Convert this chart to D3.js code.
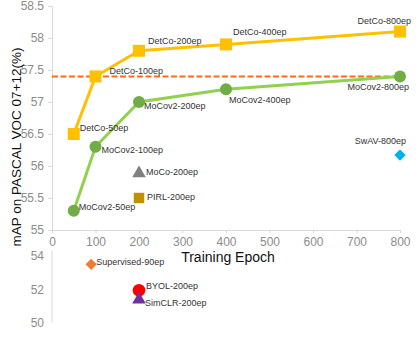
<!DOCTYPE html>
<html><head><meta charset="utf-8">
<script src="https://cdn.jsdelivr.net/npm/d3@7"></script>
<style>body{margin:0;background:#fff}svg{display:block}text{font-family:"Liberation Sans",Arial,sans-serif}</style>
</head><body><svg id="c" width="419" height="340"></svg>
<script>
const epochs = [50, 100, 200, 400, 800];
const detco = [56.5, 57.4, 57.8, 57.9, 58.1];
const mocov2 = [55.3, 56.3, 57.0, 57.2, 57.4];
const baselineLine = 57.4;
const xTicks = [0, 100, 200, 300, 400, 500, 600, 700, 800];
const yTopTicks = [55, 55.5, 56, 56.5, 57, 57.5, 58, 58.5];
const yBotTicks = [50, 52, 54];
const others = [
  {name: "MoCo-200ep", epoch: 200, value: 55.9, shape: "triangle", color: "#808080", panel: "top"},
  {name: "PIRL-200ep", epoch: 200, value: 55.5, shape: "square", color: "#BF9000", panel: "top"},
  {name: "SwAV-800ep", epoch: 800, value: 56.17, shape: "diamond", color: "#00B0F0", panel: "top"},
  {name: "Supervised-90ep", epoch: 90, value: 53.5, shape: "diamond", color: "#ED7D31", panel: "bot"},
  {name: "BYOL-200ep", epoch: 200, value: 51.95, shape: "circle", color: "#FF0000", panel: "bot"},
  {name: "SimCLR-200ep", epoch: 200, value: 51.45, shape: "triangle", color: "#7030A0", panel: "bot"}
];

const svg = d3.select("#c");
const x = d3.scaleLinear().domain([0, 800]).range([52, 400]);
const yT = d3.scaleLinear().domain([55, 58.5]).range([230, 6]);
const yB = d3.scaleLinear().domain([50, 54]).range([322.7, 256]);
const axisCol = "#d9d9d9", tickTxt = "#8c8c8c";

function styleAxis(g){
  g.selectAll("path,line").attr("stroke", axisCol);
  g.selectAll("text").attr("fill", tickTxt).style("font-size", "12px");
}
// upper y axis
svg.append("g").attr("transform","translate(52,0)")
  .call(d3.axisLeft(yT).tickValues(yTopTicks).tickFormat(d3.format(".1~f")).tickSize(4).tickSizeOuter(0).tickPadding(4))
  .call(styleAxis);
// lower y axis
const gb = svg.append("g").attr("transform","translate(52,0)")
  .call(d3.axisLeft(yB).tickValues(yBotTicks).tickFormat(d3.format("d")).tickSize(0).tickSizeOuter(0).tickPadding(8))
  .call(styleAxis);
gb.select("path.domain").attr("d", `M0,${yB(54.35)}V${yB(50)}`);
// x axis
svg.append("g").attr("transform",`translate(0,${yT(55)})`)
  .call(d3.axisBottom(x).tickValues(xTicks).tickSize(3).tickSizeOuter(0).tickPadding(4))
  .call(styleAxis);

// dashed reference line
svg.append("line").attr("x1", x(0)).attr("x2", x(800)).attr("y1", yT(baselineLine)).attr("y2", yT(baselineLine))
  .attr("stroke", "#FF6A1A").attr("stroke-width", 2).attr("stroke-dasharray", "6,2.5");

const line = d3.line();
// MoCov2
svg.append("path").datum(epochs.map((e,i)=>[x(e), yT(mocov2[i])])).attr("d", line)
  .attr("fill","none").attr("stroke","#92D050").attr("stroke-width",3);
svg.selectAll("circle.m").data(epochs).join("circle").attr("class","m")
  .attr("cx", d=>x(d)).attr("cy", (d,i)=>yT(mocov2[i])).attr("r", 6).attr("fill","#70AD47");
// DetCo
svg.append("path").datum(epochs.map((e,i)=>[x(e), yT(detco[i])])).attr("d", line)
  .attr("fill","none").attr("stroke","#FFC000").attr("stroke-width",3);
svg.selectAll("rect.d").data(epochs).join("rect").attr("class","d")
  .attr("x", d=>x(d)-6).attr("y", (d,i)=>yT(detco[i])-6).attr("width",12).attr("height",12).attr("fill","#FFC000");

// other methods
const symType = {triangle: d3.symbolTriangle, square: d3.symbolSquare, diamond: d3.symbolSquare, circle: d3.symbolCircle};
const symSize = {triangle: 80, square: 110, diamond: 64, circle: 125};
others.forEach(o=>{
  const cx = x(o.epoch), cy = (o.panel==="top"?yT:yB)(o.value);
  svg.append("path").attr("d", d3.symbol().type(symType[o.shape]).size(symSize[o.shape])())
    .attr("transform", `translate(${cx},${cy})` + (o.shape==="diamond"?" rotate(45)":"") + (o.shape==="triangle"?" translate(0,1)":""))
    .attr("fill", o.color);
});

// labels
const lab = (t, px, py, anchor) => svg.append("text").attr("x", px).attr("y", py).attr("text-anchor", anchor||"start")
  .attr("dominant-baseline","middle").attr("fill","#333").style("font-size","9px").text(t);
const offsD = [[6,-5,"start"],[14,-5,"start"],[9,-9,"start"],[7,-12,"start"],[11,-10,"end"]];
const offsM = [[5,-3,"start"],[6,4,"start"],[5,5,"start"],[3,11,"start"],[9,11,"end"]];
epochs.forEach((e,i)=>{
  lab(`DetCo-${e}ep`, x(e)+offsD[i][0], yT(detco[i])+offsD[i][1], offsD[i][2]);
  lab(`MoCov2-${e}ep`, x(e)+offsM[i][0], yT(mocov2[i])+offsM[i][1], offsM[i][2]);
});
const offsO = {"MoCo-200ep":[7,0,"start"],"PIRL-200ep":[8,0,"start"],"SwAV-800ep":[6,-13,"end"],
  "Supervised-90ep":[5,-2,"start"],"BYOL-200ep":[7,-4,"start"],"SimCLR-200ep":[6,5,"start"]};
others.forEach(o=>{
  const f = offsO[o.name];
  lab(o.name, x(o.epoch)+f[0], (o.panel==="top"?yT:yB)(o.value)+f[1], f[2]);
});

// titles
svg.append("text").attr("transform","translate(17,147) rotate(-90)").attr("text-anchor","middle")
  .attr("dominant-baseline","middle").attr("fill","#111").style("font-size","13.5px").text("mAP on PASCAL VOC 07+12(%)");
svg.append("text").attr("x",228).attr("y",258).attr("text-anchor","middle")
  .attr("dominant-baseline","middle").attr("fill","#111").style("font-size","14px").text("Training Epoch");
</script></body></html>
